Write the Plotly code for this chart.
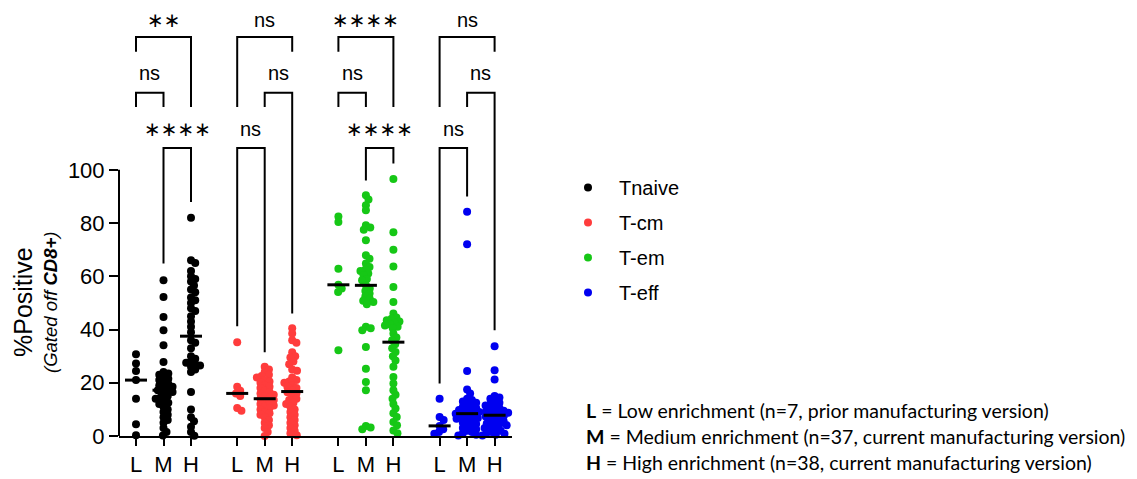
import numpy as np
import plotly.graph_objects as go

# ---------------- data ----------------
groups = ["Tnaive", "T-cm", "T-em", "T-eff"]
categories = ["L", "M", "H"]
colors = ["#000000", "#ff3c3c", "#16c716", "#0000f0"]

tnaive_L = [30.7, 27.2, 24.4, 21.0, 14.0, 4.4, 0.3]
tnaive_M = [58.5, 52.2, 44.7, 39.7, 34.1, 27.8, 24, 23.5, 23, 22, 21.5, 21, 20, 19.5, 19, 18.5, 18, 17.5,
            17.2, 16.5, 16, 15, 14.5, 14, 13, 12.5, 12, 11, 10, 9, 8, 7, 6, 5, 3, 1.5, 0.2]
tnaive_H = [82, 66, 65, 62, 60, 59, 58, 56.5, 55, 54, 52, 51, 50, 48, 47, 45, 43, 41, 39,
            36, 35, 33, 30, 29, 28, 27.5, 27, 26.5, 26, 25, 24, 16.5, 10, 7, 5.5, 3.5, 1.5, 0.1]

tcm_L = [35.2, 18.5, 17, 16, 15, 10.5, 9.5]
tcm_M = [26, 25, 24, 23, 22.5, 22, 21, 20.5, 20, 19, 18.5, 18, 17, 16.5, 16, 15.5, 15, 14.5,
         14, 13.5, 13, 12.5, 12, 11.5, 11, 10.5, 10, 9, 8.5, 8, 7, 6, 5, 4, 3, 1.5, 0]
tcm_H = [40.5, 38.5, 36, 35, 31.5, 30, 29.5, 28, 27, 25, 24.5, 22, 21, 20.5, 20, 19, 18.5, 18, 17,
         16.4, 16, 15, 14, 13.5, 12.5, 12, 11, 10, 9, 8, 7, 6, 5, 4, 3, 2, 1, 0.3]

tem_L = [82.5, 80.4, 62.8, 56.8, 55.4, 54.1, 32.2]
tem_M = [90.4, 88.8, 86.7, 84.8, 79.2, 78.3, 77.5, 73.5, 67.9, 66.6, 64.8, 63.5, 62.5, 62, 61, 60.4, 59, 58.5,
         56.6, 55.4, 54.5, 53.5, 52.5, 51.6, 50.8, 50.3, 49.5, 41, 40.5, 39.7, 33.4, 25.3, 20.3, 17.2, 3.8, 3.2, 2.5]
tem_H = [96.5, 76.5, 70, 63.7, 56, 50.3, 46, 44.5, 44, 43.5, 43, 42.5, 42, 41.5, 41, 40.5, 38.5, 37, 36,
         34.5, 33, 31.6, 30, 28.4, 26, 22.2, 19.7, 17.2, 15.5, 14, 12, 10.3, 8.5, 7.1, 5.3, 4, 2.1, 1]

teff_L = [14, 7.1, 6, 3.8, 2.5, 1.5, 0.8]
teff_M = [84.2, 72, 24.4, 17.5, 16, 14, 13.5, 13, 12.5, 12, 11.5, 11, 10.5, 10, 9.8, 9.3, 9, 8.7,
          8.4, 8, 7.5, 7, 6.8, 6.5, 6, 5.5, 5, 4.5, 4, 3.5, 3, 2.5, 2, 1.5, 1, 0.5, 0.2]
teff_H = [33.7, 24.7, 21.2, 15, 14.5, 14, 13, 12.5, 12, 11.5, 11, 10.5, 10, 9.5, 9.2, 9, 8.7, 8.4, 8,
          7.6, 7.3, 7, 6.5, 6, 5.5, 5, 4.7, 4.3, 4, 3.5, 3, 2.5, 2, 1.5, 1.2, 0.8, 0.5, 0.2]

series = [
    [tnaive_L, tnaive_M, tnaive_H],
    [tcm_L, tcm_M, tcm_H],
    [tem_L, tem_M, tem_H],
    [teff_L, teff_M, teff_H],
]

# significance comparisons: (group, cat_a, cat_b, level, label, leg_a_end, leg_b_end)
brackets = [
    (0, 0, 2, 1, "**", 144.3, 123.6),
    (0, 0, 1, 2, "ns", 123.6, 123.6),
    (0, 1, 2, 3, "****", 64.8, 87.9),
    (1, 0, 2, 1, "ns", 123.6, 144.3),
    (1, 1, 2, 2, "ns", 123.6, 46.0),
    (1, 0, 1, 3, "ns", 41.2, 31.5),
    (2, 0, 2, 1, "****", 144.3, 123.6),
    (2, 0, 1, 2, "ns", 123.6, 123.6),
    (2, 1, 2, 3, "****", 96.0, 102.4),
    (3, 0, 2, 1, "ns", 123.6, 144.3),
    (3, 1, 2, 2, "ns", 123.6, 39.7),
    (3, 0, 1, 3, "ns", 19.7, 90.0),
]

legend_note = [
    ("L", "Low enrichment (n=7, prior manufacturing version)"),
    ("M", "Medium enrichment (n=37, current manufacturing version)"),
    ("H", "High enrichment (n=38, current manufacturing version)"),
]

# ---------------- layout geometry ----------------
W, H = 1137, 479
PLOT_L, PLOT_R, PLOT_BOTTOM = 119, 512, 436
KX = 27.5          # px per x unit
KY = 2.662         # px per y unit
GROUP_STEP = 3.68
X_MIN = -(136 - PLOT_L) / KX
X_MAX = X_MIN + (PLOT_R - PLOT_L) / KX
Y_MAX = PLOT_BOTTOM / KY
LEVEL_Y = {1: 149.9, 2: 128.9, 3: 108.2}
LABEL_Y = {1: 156.4, 2: 136.5, 3: 115.2}


def pos(g, c):
    return g * GROUP_STEP + c


def swarm(vals, d_px=5.0):
    vals = np.asarray(vals, float)
    order = np.argsort(-vals)
    placed = []
    offs = np.zeros(len(vals))
    for i in order:
        y = vals[i] * KY
        cands = [0.0]
        for (px, py) in placed:
            dy = y - py
            if abs(dy) < d_px:
                dx = np.sqrt(d_px ** 2 - dy ** 2)
                cands += [px + dx, px - dx]
        cands.sort(key=lambda c: (abs(c), -c))
        chosen = 0.0
        for c in cands:
            if all((c - px) ** 2 + (y - py) ** 2 >= d_px ** 2 - 1e-6 for px, py in placed):
                chosen = c
                break
        placed.append((chosen, y))
        offs[i] = chosen / KX
    return offs


fig = go.Figure()
shapes = []
annotations = []

for g, name in enumerate(groups):
    xs, ys = [], []
    for c, vals in enumerate(series[g]):
        offs = swarm(vals)
        xs += list(pos(g, c) + offs)
        ys += list(vals)
        med = float(np.median(vals))
        shapes.append(dict(type="line", xref="x", yref="y", x0=pos(g, c) - 0.4, x1=pos(g, c) + 0.4,
                           y0=med, y1=med, line=dict(color="black", width=3)))
    fig.add_trace(go.Scatter(x=xs, y=ys, mode="markers", name=name, legendgroup=name,
                             marker=dict(color=colors[g], size=8, line=dict(width=0)),
                             cliponaxis=False, hoverinfo="y"))

for g, a, b, lvl, lab, ea, eb in brackets:
    xa, xb = pos(g, a), pos(g, b)
    yt = LEVEL_Y[lvl]
    shapes.append(dict(type="path", xref="x", yref="y",
                       path=f"M {xa},{ea} L {xa},{yt} L {xb},{yt} L {xb},{eb}",
                       line=dict(color="black", width=2)))
    star = lab.startswith("*")
    annotations.append(dict(xref="x", yref="y", x=(xa + xb) / 2, y=LABEL_Y[lvl],
                            text=("\u2217" * len(lab)) if star else lab, showarrow=False,
                            font=dict(family="DejaVu Sans" if star else "Liberation Sans, Arial",
                                      size=20 if star else 20, color="black"),
                            xanchor="center", yanchor="middle"))

# y axis line only spanning 0..100
shapes.append(dict(type="line", xref="paper", yref="y", x0=PLOT_L / W, x1=PLOT_L / W, y0=0, y1=100,
                   line=dict(color="black", width=2)))

# y-axis titles
annotations.append(dict(xref="paper", yref="paper", x=23 / W, y=(PLOT_BOTTOM - 302) / PLOT_BOTTOM,
                        text="%Positive", textangle=-90, showarrow=False,
                        font=dict(family="Liberation Sans, Arial", size=25, color="black"),
                        xanchor="center", yanchor="middle"))
annotations.append(dict(xref="paper", yref="paper", x=50 / W, y=(PLOT_BOTTOM - 303) / PLOT_BOTTOM,
                        text="<i>(Gated off <b>CD8+</b>)</i>", textangle=-90, showarrow=False,
                        font=dict(family="Liberation Sans, Arial", size=18.5, color="black"),
                        xanchor="center", yanchor="middle"))

# explanatory note
for i, (k, txt) in enumerate(legend_note):
    py = 410 + i * 26.5
    annotations.append(dict(xref="paper", yref="paper", x=584 / W, y=(PLOT_BOTTOM - py) / PLOT_BOTTOM,
                            text=f"<b>{k}</b> = {txt}", showarrow=False,
                            font=dict(family="Lato", size=19.5, color="black"),
                            xanchor="left", yanchor="middle"))

tickvals = [pos(g, c) for g in range(len(groups)) for c in range(len(categories))]
ticktext = [categories[c] for g in range(len(groups)) for c in range(len(categories))]

fig.update_layout(
    width=W, height=H,
    margin=dict(l=0, r=0, t=0, b=H - PLOT_BOTTOM),
    plot_bgcolor="white", paper_bgcolor="white",
    xaxis=dict(domain=[PLOT_L / W, PLOT_R / W], range=[X_MIN, X_MAX],
               tickmode="array", tickvals=tickvals, ticktext=ticktext,
               ticks="outside", ticklen=8, tickwidth=2, tickcolor="black",
               showline=True, linewidth=2, linecolor="black", showgrid=False, zeroline=False,
               tickfont=dict(family="Liberation Sans, Arial", size=22, color="black")),
    yaxis=dict(range=[0, Y_MAX], tickmode="array", tickvals=[0, 20, 40, 60, 80, 100],
               ticks="outside", ticklen=9, tickwidth=2, tickcolor="black",
               showline=False, showgrid=False, zeroline=False,
               tickfont=dict(family="Liberation Sans, Arial", size=22, color="black")),
    showlegend=True,
    legend=dict(x=557 / W, y=(PLOT_BOTTOM - 168) / PLOT_BOTTOM, xanchor="left", yanchor="top",
                itemwidth=52, tracegroupgap=6, bgcolor="rgba(0,0,0,0)",
                font=dict(family="Liberation Sans, Arial", size=20, color="black")),
    shapes=shapes, annotations=annotations,
)

fig.write_html("out.html")
